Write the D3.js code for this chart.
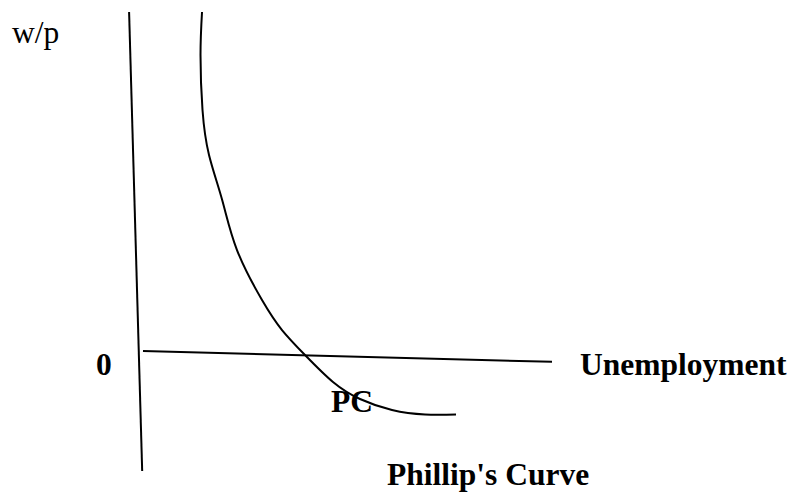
<!DOCTYPE html>
<html>
<head>
<meta charset="utf-8">
<script src="https://cdn.jsdelivr.net/npm/d3@7"></script>
<style>
  html, body { margin: 0; padding: 0; background: #fff; }
  svg { display: block; }
</style>
</head>
<body>
<svg id="chart" width="791" height="492"></svg>
<script>
// ---- Data (chart units) ----
const curveX = [1.443, 1.406, 1.455, 1.614, 1.936, 2.298, 2.910, 3.399, 3.961, 4.645, 5.306, 6.088, 6.895, 7.653];
const curveY = [10.000, 8.732, 7.109, 5.782, 4.454, 2.979, 1.504, 0.619, -0.118, -0.914, -1.416, -1.740, -1.873, -1.873];
const vAxisX = [-0.34, -0.02];
const vAxisY = [10.0, -3.54];
const hAxisX = [0, 10];
const hAxisY = [0, -0.32];
const yLabel = "w/p";
const xLabel = "Unemployment";
const originLabel = "0";
const curveLabel = "PC";
const title = "Phillip's Curve";

// ---- Scales ----
const x = d3.scaleLinear().domain([0, 10]).range([143, 552]);
const y = d3.scaleLinear().domain([0, 10]).range([351, 12]);

const svg = d3.select("#chart");
const line = d3.line().x(d => x(d[0])).y(d => y(d[1]));

// axes (hand-drawn style lines)
svg.append("path")
  .attr("d", line(d3.zip(vAxisX, vAxisY)))
  .attr("fill", "none").attr("stroke", "#000").attr("stroke-width", 2);
svg.append("path")
  .attr("d", line(d3.zip(hAxisX, hAxisY)))
  .attr("fill", "none").attr("stroke", "#000").attr("stroke-width", 2);

// Phillips curve
const smooth = d3.line().x(d => x(d[0])).y(d => y(d[1])).curve(d3.curveNatural);
svg.append("path")
  .attr("d", smooth(d3.zip(curveX, curveY)))
  .attr("fill", "none").attr("stroke", "#000").attr("stroke-width", 2);

const font = "'Liberation Serif', 'Times New Roman', serif";
function label(txt, px, py, weight) {
  svg.append("text")
    .attr("x", px).attr("y", py)
    .attr("font-family", font)
    .attr("font-size", 31.5)
    .attr("font-weight", weight)
    .attr("fill", "#000")
    .text(txt);
}
label(yLabel, 12, 43, "normal");
label(originLabel, 96, 375, "bold");
label(xLabel, 580, 375, "bold");
label(curveLabel, 331, 412, "bold");
label(title, 387, 485, "bold");
</script>
</body>
</html>
